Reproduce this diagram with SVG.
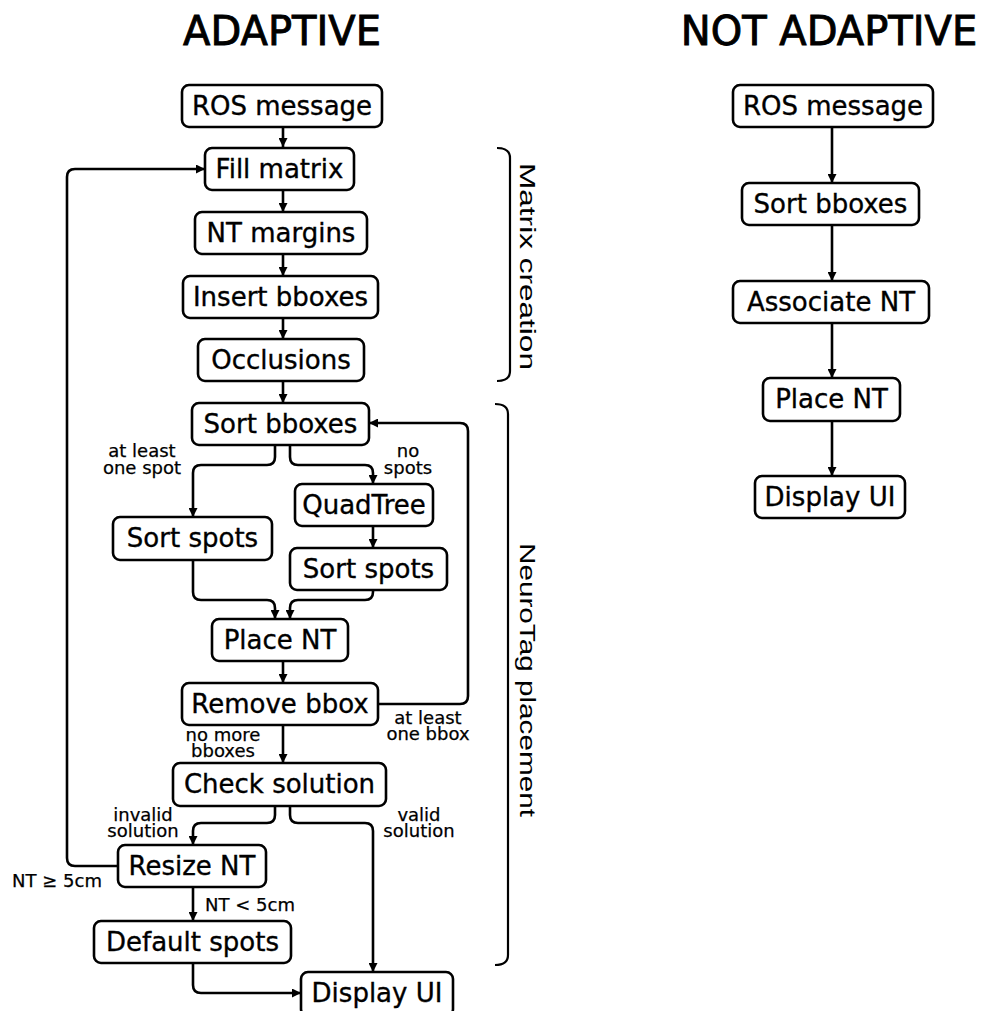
<svg xmlns="http://www.w3.org/2000/svg" width="984" height="1011" viewBox="0 0 984 1011">
  <defs>
    <marker id="arrow" viewBox="0 0 10 10" refX="10" refY="5" markerWidth="9" markerHeight="9" markerUnits="userSpaceOnUse" orient="auto">
      <path d="M0,0 L10,5 L0,10 z" fill="#000"/>
    </marker>
    <style>
      .box { fill: #fff; stroke: #000; stroke-width: 2.6; }
      .lbl { font-family: "DejaVu Sans", sans-serif; font-size: 26px; fill: #000; stroke: #000; stroke-width: 0.35; text-anchor: middle; }
      .title { font-family: "DejaVu Sans", sans-serif; font-size: 40px; fill: #000; stroke: #000; stroke-width: 0.9; text-anchor: middle; }
      .edge { fill: none; stroke: #000; stroke-width: 2.6; marker-end: url(#arrow); }
      .note { font-family: "DejaVu Sans", sans-serif; font-size: 18px; fill: #000; stroke: #000; stroke-width: 0.25; text-anchor: middle; }
      .brace { fill: none; stroke: #000; stroke-width: 2.2; }
      .group { font-family: "Liberation Sans", Arial, sans-serif; font-size: 22px; fill: #000; text-anchor: middle; }
    </style>
  </defs>
  <rect width="984" height="1011" fill="#fff"/>

  <!-- column titles -->
  <text class="title" x="282" y="45">ADAPTIVE</text>
  <text class="title" x="829" y="45">NOT ADAPTIVE</text>

  <!-- connectors -->
  <g id="connectors">
    <!-- adaptive pipeline -->
    <path class="edge" d="M283,127 V147"/>
    <path class="edge" d="M283,190 V212"/>
    <path class="edge" d="M283,254 V276"/>
    <path class="edge" d="M283,318 V339"/>
    <path class="edge" d="M283,381 V403"/>
    <path class="edge" d="M275,445 V457 Q275,465 267,465 H201 Q193,465 193,473 V517"/>
    <path class="edge" d="M290,445 V457 Q290,465 298,465 H365 Q373,465 373,473 V484"/>
    <path class="edge" d="M373,526 V548"/>
    <path class="edge" d="M193,560 V592 Q193,600 201,600 H267 Q275,600 275,608 V619"/>
    <path class="edge" d="M373,590 V592 Q373,600 365,600 H298 Q290,600 290,608 V619"/>
    <path class="edge" d="M283,661 V683"/>
    <path class="edge" d="M378,704 H460 Q468,704 468,696 V431 Q468,423 460,423 H369"/>
    <path class="edge" d="M283,725 V763"/>
    <path class="edge" d="M275,806 V815 Q275,823 267,823 H201 Q193,823 193,831 V845"/>
    <path class="edge" d="M290,806 V815 Q290,823 298,823 H365 Q373,823 373,831 V972"/>
    <path class="edge" d="M193,887 V921"/>
    <path class="edge" d="M193,963 V985 Q193,993 201,993 H301"/>
    <path class="edge" d="M118,866 H75 Q67,866 67,858 V177 Q67,169 75,169 H205"/>
    <!-- non-adaptive pipeline -->
    <path class="edge" d="M832,127 V183"/>
    <path class="edge" d="M832,225 V281"/>
    <path class="edge" d="M832,323 V378"/>
    <path class="edge" d="M832,421 V476"/>
  </g>

  <!-- edge labels -->
  <g id="edge-labels">
    <text class="note" x="142" y="457">at least<tspan x="142" dy="17">one spot</tspan></text>
    <text class="note" x="408" y="457">no<tspan x="408" dy="17">spots</tspan></text>
    <text class="note" x="223" y="741">no more<tspan x="223" dy="16">bboxes</tspan></text>
    <text class="note" x="428" y="724">at least<tspan x="428" dy="16">one bbox</tspan></text>
    <text class="note" x="143" y="821">invalid<tspan x="143" dy="16">solution</tspan></text>
    <text class="note" x="419" y="821">valid<tspan x="419" dy="16">solution</tspan></text>
    <text class="note" x="57" y="887">NT ≥ 5cm</text>
    <text class="note" x="250" y="911">NT &lt; 5cm</text>
  </g>

  <!-- stage braces -->
  <g id="stage-matrix">
    <path class="brace" d="M497,148 Q510,148 510,158 V371 Q510,381 497,381"/>
    <text class="group" transform="translate(520,266.5) rotate(90)" textLength="207" lengthAdjust="spacingAndGlyphs">Matrix creation</text>
  </g>
  <g id="stage-placement">
    <path class="brace" d="M495,404 Q508,404 508,414 V955 Q508,965 495,965"/>
    <text class="group" transform="translate(520,680) rotate(90)" textLength="274" lengthAdjust="spacingAndGlyphs">NeuroTag placement</text>
  </g>

  <!-- adaptive nodes -->
  <g id="a-ros"><rect class="box" x="182" y="85" width="200" height="42" rx="7"/><text class="lbl" x="282" y="115">ROS message</text></g>
  <g id="a-fill"><rect class="box" x="205" y="148" width="149" height="42" rx="7"/><text class="lbl" x="279.5" y="178">Fill matrix</text></g>
  <g id="a-margins"><rect class="box" x="195" y="212" width="172" height="42" rx="7"/><text class="lbl" x="281" y="242">NT margins</text></g>
  <g id="a-insert"><rect class="box" x="183" y="276" width="195" height="42" rx="7"/><text class="lbl" x="280.5" y="306">Insert bboxes</text></g>
  <g id="a-occl"><rect class="box" x="198" y="339" width="166" height="42" rx="7"/><text class="lbl" x="281" y="369">Occlusions</text></g>
  <g id="a-sortb"><rect class="box" x="192" y="403" width="177" height="42" rx="7"/><text class="lbl" x="280.5" y="433">Sort bboxes</text></g>
  <g id="a-spots1"><rect class="box" x="113" y="517" width="159" height="43" rx="7"/><text class="lbl" x="192.5" y="547">Sort spots</text></g>
  <g id="a-quad"><rect class="box" x="295" y="484" width="138" height="42" rx="7"/><text class="lbl" x="364" y="514">QuadTree</text></g>
  <g id="a-spots2"><rect class="box" x="290" y="548" width="157" height="42" rx="7"/><text class="lbl" x="368.5" y="578">Sort spots</text></g>
  <g id="a-place"><rect class="box" x="212" y="619" width="136" height="42" rx="7"/><text class="lbl" x="280" y="649">Place NT</text></g>
  <g id="a-remove"><rect class="box" x="182" y="683" width="196" height="42" rx="7"/><text class="lbl" x="280" y="713">Remove bbox</text></g>
  <g id="a-check"><rect class="box" x="173" y="763" width="213" height="43" rx="7"/><text class="lbl" x="279.5" y="793">Check solution</text></g>
  <g id="a-resize"><rect class="box" x="118" y="845" width="148" height="42" rx="7"/><text class="lbl" x="192" y="875">Resize NT</text></g>
  <g id="a-default"><rect class="box" x="94" y="921" width="197" height="42" rx="7"/><text class="lbl" x="192.5" y="951">Default spots</text></g>
  <g id="a-display"><rect class="box" x="301" y="972" width="152" height="44" rx="7"/><text class="lbl" x="377" y="1002">Display UI</text></g>

  <!-- non-adaptive nodes -->
  <g id="n-ros"><rect class="box" x="733" y="85" width="200" height="42" rx="7"/><text class="lbl" x="833" y="115">ROS message</text></g>
  <g id="n-sortb"><rect class="box" x="742" y="183" width="177" height="42" rx="7"/><text class="lbl" x="830.5" y="213">Sort bboxes</text></g>
  <g id="n-assoc"><rect class="box" x="733" y="281" width="196" height="42" rx="7"/><text class="lbl" x="831" y="311">Associate NT</text></g>
  <g id="n-place"><rect class="box" x="763" y="378" width="137" height="43" rx="7"/><text class="lbl" x="831.5" y="408">Place NT</text></g>
  <g id="n-display"><rect class="box" x="755" y="476" width="150" height="42" rx="7"/><text class="lbl" x="830" y="506">Display UI</text></g>
</svg>
